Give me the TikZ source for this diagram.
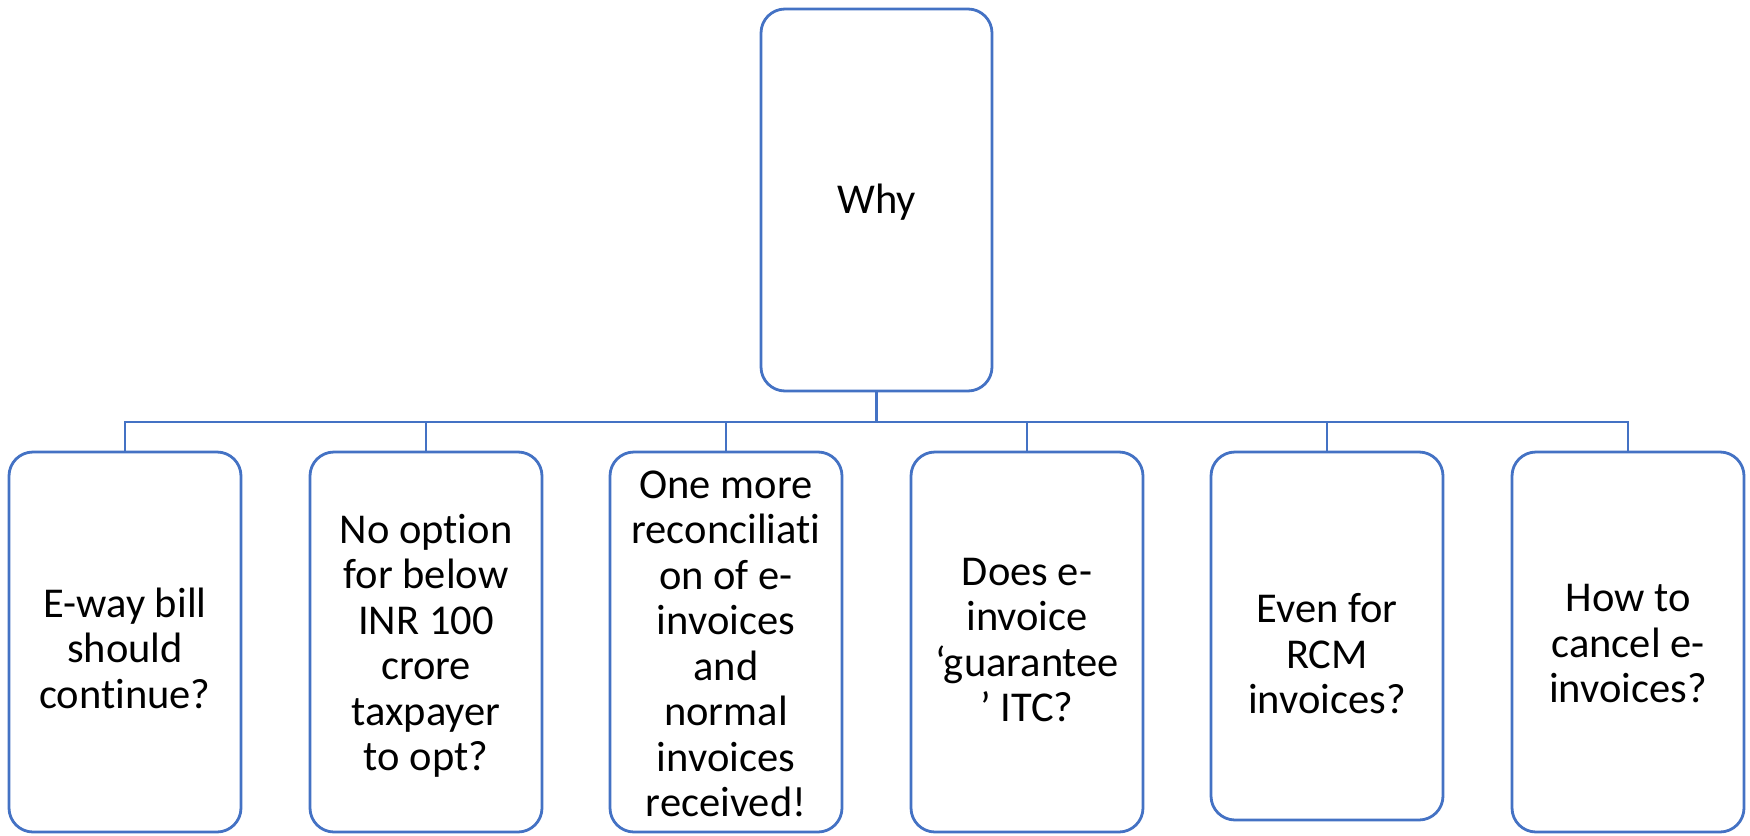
\documentclass[tikz,border=0pt]{standalone}
\usepackage{fontspec}
\setmainfont{Carlito}[Ligatures=CommonOff]
\usetikzlibrary{calc}
\definecolor{edgeblue}{HTML}{4472C4}
\begin{document}
\begin{tikzpicture}[x=1pt,y=-1pt,
  box/.style={draw=edgeblue,line width=2.8pt,rounded corners=24pt,fill=white,
    inner sep=0pt,outer sep=0pt,anchor=north west},
  lbl/.style={align=center,inner sep=0pt,font=\fontsize{42.5}{45.5}\selectfont,text=black},
  link/.style={draw=edgeblue,line width=2.8pt}]
\useasboundingbox (0,0) rectangle (1750,835);

% root
\node[box,minimum width=231pt,minimum height=382pt] (root) at (761,9) {};
\node[lbl] (rootlbl) at ($(root.center)+(0,2)$) {Why};

% leaves
\node[box,minimum width=232pt,minimum height=380pt] (b1) at (9,452) {};
\node[box,minimum width=232pt,minimum height=380pt] (b2) at (310,452) {};
\node[box,minimum width=232pt,minimum height=380pt] (b3) at (610,452) {};
\node[box,minimum width=232pt,minimum height=380pt] (b4) at (911,452) {};
\node[box,minimum width=232pt,minimum height=368pt] (b5) at (1211,452) {};
\node[box,minimum width=232pt,minimum height=380pt] (b6) at (1512,452) {};

\node[lbl] (t1) at ($(b1.center)+(0,6)$) {E-way bill\\should\\continue?};
\node[lbl] (t2) at ($(b2.center)+(0,4)$) {No option\\for below\\INR 100\\crore\\taxpayer\\to opt?};
\node[lbl] (t3) at ($(b3.center)+(0,2)$) {One more\\reconciliati\\on of e-\\invoices\\and\\normal\\invoices\\received!};
\node[lbl] (t4) at ($(b4.center)+(0,-2)$) {Does e-\\invoice\\‘guarantee\\’ ITC?};
\node[lbl] (t5) at ($(b5.center)+(0,18)$) {Even for\\RCM\\invoices?};
\node[lbl] (t6) at ($(b6.center)+(0,2)$) {How to\\cancel e-\\invoices?};

% connectors
\coordinate (bus) at (876.5,422);
\draw[link] (root.south) -- (root.south |- bus);
\draw[link] (b1.north) |- (bus) -| (b6.north);
\foreach \n in {b2,b3,b4,b5}{
  \draw[link] (\n.north) -- (\n.north |- bus);
}
\end{tikzpicture}
\end{document}
